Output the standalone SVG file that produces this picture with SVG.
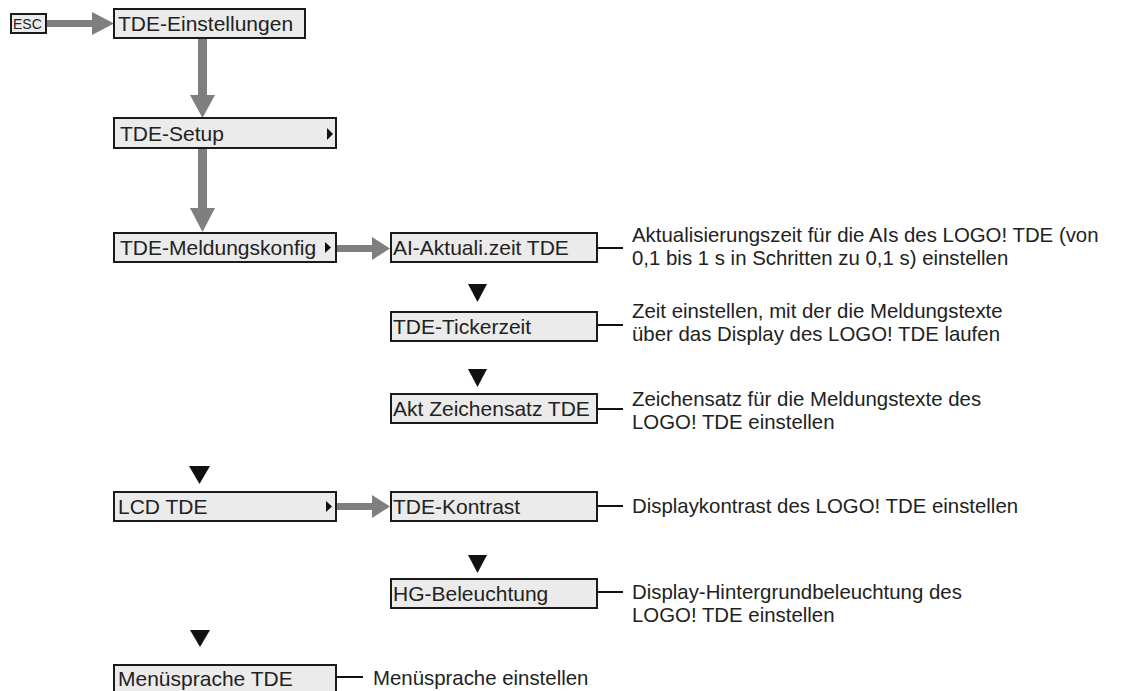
<svg xmlns="http://www.w3.org/2000/svg" width="1133" height="691" viewBox="0 0 1133 691">
<style>
.box{fill:#ebebeb;stroke:#1a1a1a;stroke-width:2}
.bt{font-family:"Liberation Sans",Arial,sans-serif;font-size:21px;fill:#222}
.dt{font-family:"Liberation Sans",Arial,sans-serif;font-size:20.4px;fill:#222}
.esc{font-family:"Liberation Sans",Arial,sans-serif;font-size:14px;fill:#222}
.ga{fill:#7f7f7f}
.tri{fill:#111}
.lead{stroke:#111;stroke-width:2;fill:none}
</style>
<rect width="1133" height="691" fill="#fff"/>
<g id="connectors">
  <rect class="ga" x="46" y="20" width="48" height="7"/>
  <polygon class="ga" points="92,12 114,23.5 92,35"/>
  <rect class="ga" x="198" y="38" width="9" height="58"/>
  <polygon class="ga" points="190,95 215,95 202.5,118"/>
  <rect class="ga" x="198" y="148" width="9" height="61"/>
  <polygon class="ga" points="190,208 215,208 202.5,232"/>
  <rect class="ga" x="336" y="245" width="38" height="7"/>
  <polygon class="ga" points="372,237 390,248.5 372,260"/>
  <rect class="ga" x="336" y="503" width="38" height="7"/>
  <polygon class="ga" points="372,495 390,506.5 372,518"/>
  <polygon class="tri" points="468,284 487,284 477.5,302"/>
  <polygon class="tri" points="468,369 487,369 477.5,387"/>
  <polygon class="tri" points="189,466 210,466 199.5,484"/>
  <polygon class="tri" points="468,555 487,555 477.5,573"/>
  <polygon class="tri" points="190,630 210,630 200,647"/>
  <line class="lead" x1="597" y1="248" x2="623" y2="248"/>
  <line class="lead" x1="597" y1="325" x2="623" y2="325"/>
  <line class="lead" x1="597" y1="409" x2="623" y2="409"/>
  <line class="lead" x1="597" y1="506" x2="623" y2="506"/>
  <line class="lead" x1="597" y1="592" x2="623" y2="592"/>
  <line class="lead" x1="336" y1="677" x2="363" y2="677"/>
</g>
<g id="esc">
  <rect class="box" x="11" y="14" width="35" height="19" stroke-width="1.5"/>
  <text class="esc" x="13" y="29">ESC</text>
</g>
<g id="tde-einstellungen">
  <rect class="box" x="114" y="9" width="191" height="29"/>
  <text class="bt" x="118" y="31">TDE-Einstellungen</text>
</g>
<g id="tde-setup">
  <rect class="box" x="114" y="118" width="222" height="30"/>
  <text class="bt" x="120" y="141">TDE-Setup</text>
  <polygon class="tri" points="327,128 333,134 327,140"/>
</g>
<g id="tde-meldungskonfig">
  <rect class="box" x="114" y="233" width="222" height="29"/>
  <text class="bt" x="120" y="255">TDE-Meldungskonfig</text>
  <polygon class="tri" points="325,242 331,247.5 325,253"/>
</g>
<g id="ai-aktuali">
  <rect class="box" x="391" y="233" width="206" height="29"/>
  <text class="bt" x="393" y="255">AI-Aktuali.zeit TDE</text>
  <text class="dt" x="632" y="242">Aktualisierungszeit für die AIs des LOGO! TDE (von</text>
  <text class="dt" x="632" y="265">0,1 bis 1 s in Schritten zu 0,1 s) einstellen</text>
</g>
<g id="tde-tickerzeit">
  <rect class="box" x="391" y="312" width="206" height="29"/>
  <text class="bt" x="393" y="334">TDE-Tickerzeit</text>
  <text class="dt" x="632" y="318">Zeit einstellen, mit der die Meldungstexte</text>
  <text class="dt" x="632" y="341">über das Display des LOGO! TDE laufen</text>
</g>
<g id="akt-zeichensatz">
  <rect class="box" x="391" y="394" width="206" height="29"/>
  <text class="bt" x="393" y="416">Akt Zeichensatz TDE</text>
  <text class="dt" x="632" y="406">Zeichensatz für die Meldungstexte des</text>
  <text class="dt" x="632" y="429">LOGO! TDE einstellen</text>
</g>
<g id="lcd-tde">
  <rect class="box" x="114" y="492" width="222" height="29"/>
  <text class="bt" x="118" y="514">LCD TDE</text>
  <polygon class="tri" points="326,501 332,506.5 326,512"/>
</g>
<g id="tde-kontrast">
  <rect class="box" x="391" y="492" width="206" height="29"/>
  <text class="bt" x="393" y="514">TDE-Kontrast</text>
  <text class="dt" x="632" y="513">Displaykontrast des LOGO! TDE einstellen</text>
</g>
<g id="hg-beleuchtung">
  <rect class="box" x="391" y="579" width="206" height="29"/>
  <text class="bt" x="393" y="601">HG-Beleuchtung</text>
  <text class="dt" x="632" y="599">Display-Hintergrundbeleuchtung des</text>
  <text class="dt" x="632" y="622">LOGO! TDE einstellen</text>
</g>
<g id="menuesprache">
  <rect class="box" x="114" y="665" width="222" height="29"/>
  <text class="bt" x="118" y="686">Menüsprache TDE</text>
  <text class="dt" x="373" y="685">Menüsprache einstellen</text>
</g>
</svg>
